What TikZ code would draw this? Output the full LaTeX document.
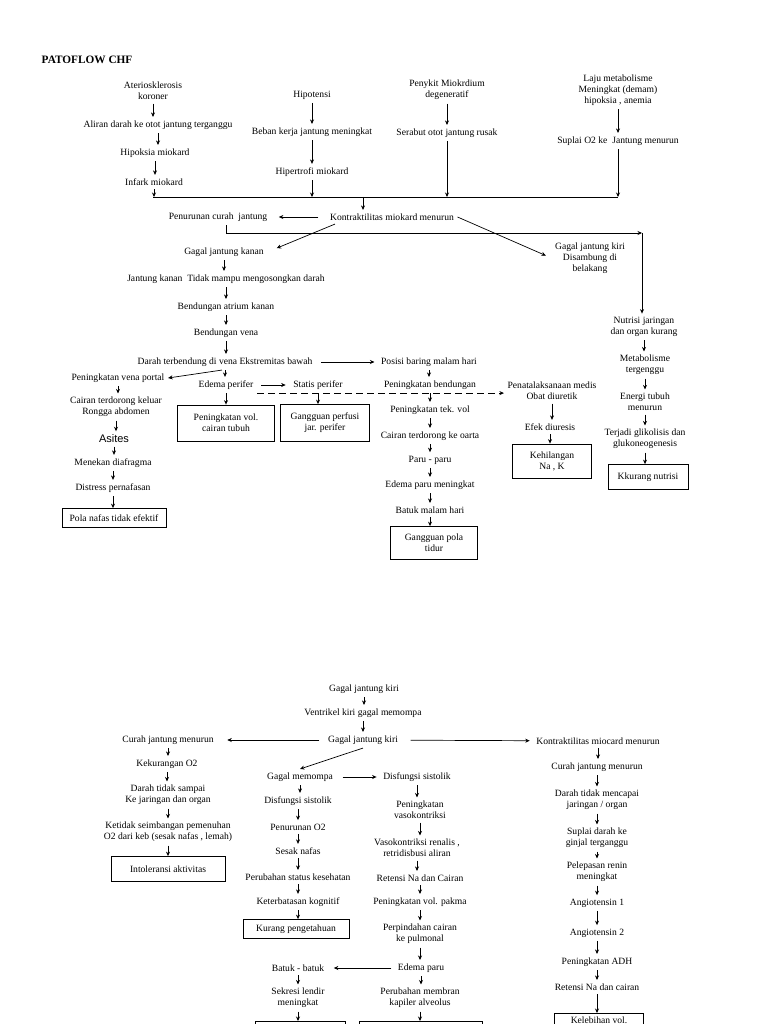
\documentclass[tikz,border=0pt]{standalone}
\usepackage{fontspec}
\setmainfont{Liberation Serif}
\newfontfamily\asitesfont{Liberation Sans}
\usetikzlibrary{arrows.meta}
\tikzset{
  every node/.style={font=\fontsize{9.6}{11}\selectfont, align=center},
  box/.style={draw, line width=0.8pt},
  >={Stealth[length=4.5pt,width=4pt]}
}
\begin{document}
\begin{tikzpicture}[x=1pt,y=-1pt,line width=0.7pt]
\useasboundingbox (0,0) rectangle (768,1024);
\fill[white] (0,0) rectangle (768,1024);
\clip (0,0) rectangle (768,1024);
\node[anchor=west, font=\fontsize{11.3}{13}\selectfont\bfseries] (title) at (38,60) {PATOFLOW CHF};
\node (ath) at (153,91) {Ateriosklerosis\\koroner};
\node (ali) at (158,125) {Aliran darah ke otot jantung terganggu};
\node (hip) at (155,153) {Hipoksia miokard};
\node (inf) at (154,182) {Infark miokard};
\node (hpt) at (312,95) {Hipotensi};
\node (beb) at (312,132) {Beban kerja jantung meningkat};
\node (htr) at (312,172) {Hipertrofi miokard};
\node (pny) at (447,90) {Penykit Miokrdium\\degeneratif};
\node (ser) at (447,133) {Serabut otot jantung rusak};
\node (laj) at (618,90) {Laju metabolisme\\Meningkat (demam)\\hipoksia , anemia};
\node (sup) at (618,141) {Suplai O2 ke\ \ Jantung menurun};
\coordinate (barL) at (153,197);
\coordinate (barR) at (618,197);
\coordinate (jn) at (363,197);
\draw (barL) -- (barR);
\foreach \s/\t in {ath/ali, ali/hip, hip/inf, hpt/beb, beb/htr, pny/ser, laj/sup}
  \draw[->] (\s) -- (\s |- \t.north);
\foreach \s in {inf, htr, ser, sup}
  \draw[->] (\s) -- (\s |- barL);
\node (kon) at (392,217) {Kontraktilitas miokard menurun};
\node (pen) at (218,217) {Penurunan curah\ \ jantung};
\node (gka) at (224,252) {Gagal jantung kanan};
\node (gki) at (590,258) {Gagal jantung kiri\\Disambung di\\belakang};
\node (nji) at (644,327) {Nutrisi jaringan\\dan organ kurang};
\coordinate (bend) at (642,233);
\draw[->] (jn) -- (jn |- kon.north);
\draw[->, shorten <=8pt, shorten >=8pt] (kon) -- (pen);
\draw[->] ([xshift=8pt]pen.south) |- (bend);
\draw[->] (bend) -- (bend |- nji.north);
\draw[->, shorten >=6pt] (kon.east) -- (gki.west);
\draw[->, shorten >=10pt] ([xshift=-57pt]kon.south) -- (gka.east);
\node (jka) at (226,279) {Jantung kanan\ \ Tidak mampu mengosongkan darah};
\node (bat) at (226,307) {Bendungan atrium kanan};
\node (bve) at (226,333) {Bendungan vena};
\node (dar) at (225,362) {Darah terbendung di vena Ekstremitas bawah};
\node (pos) at (429,362) {Posisi baring malam hari};
\node (vpo) at (118,378) {Peningkatan vena portal};
\node (epf) at (226,385) {Edema perifer};
\node (spf) at (318,385) {Statis perifer};
\node (pmd) at (552,391) {Penatalaksanaan medis\\Obat diuretik};
\node[box, minimum width=97pt, minimum height=36pt] (pvt) at (226,423) {Peningkatan vol.\\cairan tubuh};
\node[box, minimum width=89pt, minimum height=37pt] (gpf) at (325,423) {Gangguan perfusi\\jar. perifer};
\foreach \s/\t in {gka/jka, jka/bat, bat/bve, bve/dar, dar/epf, epf/pvt, spf/gpf}
  \draw[->] (\s) -- (\s |- \t.north);
\draw[->, shorten <=5pt, shorten >=3pt] (dar) -- (pos);
\draw[->] ([xshift=-3pt]dar.south) -- (vpo.east);
\draw[->, shorten <=4pt, shorten >=4pt] (epf) -- (spf);
\draw[->, dash pattern=on 7pt off 4pt] (epf.south east) -- (epf.south east -| pmd.west);
\node (ctd) at (116,407) {Cairan terdorong keluar\\Rongga abdomen};
\node[font=\asitesfont\fontsize{11}{13}\selectfont] (asi) at (114,439) {Asites};
\node (mdf) at (113,463) {Menekan diafragma};
\node (dsp) at (113,488) {Distress pernafasan};
\node[box, minimum width=104pt, minimum height=19pt] (pnt) at (114,518) {Pola nafas tidak efektif};
\foreach \s/\t in {vpo/ctd, ctd/asi, asi/mdf, mdf/dsp, dsp/pnt}
  \draw[->] (\s) -- (\s |- \t.north);
\node (pbd) at (430,385) {Peningkatan bendungan};
\node (ptv) at (430,410) {Peningkatan tek. vol};
\node (cto) at (430,436) {Cairan terdorong ke oarta};
\node (par) at (430,460) {Paru - paru};
\node (epm) at (430,485) {Edema paru meningkat};
\node (bmh) at (430,510) {Batuk malam hari};
\node[box, minimum width=87pt, minimum height=33pt] (gpt) at (434,543) {Gangguan pola\\tidur};
\foreach \s/\t in {pos/pbd, pbd/ptv, ptv/cto, cto/par, par/epm, epm/bmh, bmh/gpt}
  \draw[->] (\s) -- (\s |- \t.north);
\node (efd) at (550,427) {Efek diuresis};
\node[box, minimum width=79pt, minimum height=34pt] (knk) at (552,461) {Kehilangan\\Na , K};
\foreach \s/\t in {pmd/efd, efd/knk}
  \draw[->] (\s) -- (\s |- \t.north);
\node (mtb) at (645,365) {Metabolisme\\tergenggu};
\node (etm) at (645,402) {Energi tubuh\\menurun};
\node (tgl) at (645,439) {Terjadi glikolisis dan\\glukoneogenesis};
\node[box, minimum width=80pt, minimum height=25pt] (knt) at (648,477) {Kkurang nutrisi};
\foreach \s/\t in {nji/mtb, mtb/etm, etm/tgl, tgl/knt}
  \draw[->] (\s) -- (\s |- \t.north);
\node (gk1) at (364,689) {Gagal jantung kiri};
\node (vkg) at (363,713) {Ventrikel kiri gagal memompa};
\node (gk2) at (363,740) {Gagal jantung kiri};
\node (cjm) at (168,740) {Curah jantung menurun};
\node (kmm) at (598,741) {Kontraktilitas miocard menurun};
\node (gmp) at (300,777) {Gagal memompa};
\node (dsa) at (417,777) {Disfungsi sistolik};
\foreach \s/\t in {gk1/vkg, vkg/gk2}
  \draw[->] (\s) -- (\s |- \t.north);
\draw[->, shorten <=5pt, shorten >=10pt] (gk2) -- (cjm);
\draw[->, shorten <=9pt, shorten >=3pt] (gk2) -- (kmm);
\draw[->] (gk2.south) -- (gmp.north);
\draw[->, shorten <=6pt, shorten >=3pt] (gmp) -- (dsa);
\node (kuo) at (167,764) {Kekurangan O2};
\node (dts) at (168,795) {Darah tidak sampai\\Ke jaringan dan organ};
\node (kse) at (168,832) {Ketidak seimbangan pemenuhan\\O2 dari keb (sesak nafas , lemah)};
\node[box, minimum width=114pt, minimum height=25pt] (ita) at (168,869) {Intoleransi aktivitas};
\foreach \s/\t in {cjm/kuo, kuo/dts, dts/kse, kse/ita}
  \draw[->] (\s) -- (\s |- \t.north);
\node (dsb) at (298,801) {Disfungsi sistolik};
\node (puo) at (298,827) {Penurunan O2};
\node (sna) at (298,851) {Sesak nafas};
\node (psk) at (298,877) {Perubahan status kesehatan};
\node (kbk) at (298,902) {Keterbatasan kognitif};
\node[box, minimum width=106pt, minimum height=19pt] (kpg) at (296,929) {Kurang pengetahuan};
\node (bbk) at (298,968) {Batuk - batuk};
\node (sld) at (298,998) {Sekresi lendir\\meningkat};
\node[box, anchor=north, minimum width=90pt, minimum height=20pt] (bsl) at (300,1021) {};
\foreach \s/\t in {gmp/dsb, dsb/puo, puo/sna, sna/psk, psk/kbk, kbk/kpg, bbk/sld, sld/bsl}
  \draw[->] (\s) -- (\s |- \t.north);
\node (pvk) at (420,810) {Peningkatan\\vasokontriksi};
\node (vrn) at (417,848) {Vasokontriksi renalis ,\\retridisbusi aliran};
\node (rnc) at (420,878) {Retensi Na dan Cairan};
\node (pvp) at (420,902) {Peningkatan vol. pakma};
\node (pcp) at (420,934) {Perpindahan cairan\\ke pulmonal};
\node (edp) at (421,968) {Edema paru};
\node (pmb) at (420,998) {Perubahan membran\\kapiler alveolus};
\node[box, anchor=north, minimum width=123pt, minimum height=20pt] (bpm) at (421,1021) {};
\foreach \s/\t in {dsa/pvk, pvk/vrn, vrn/rnc, rnc/pvp, pvp/pcp, pcp/edp, edp/pmb, pmb/bpm}
  \draw[->] (\s) -- (\s |- \t.north);
\draw[->, shorten <=3pt, shorten >=6pt] (edp) -- (bbk);
\node (cjn) at (597,767) {Curah jantung menurun};
\node (dtm) at (597,800) {Darah tidak mencapai\\jaringan / organ};
\node (sdg) at (597,838) {Suplai darah ke\\ginjal terganggu};
\node (prm) at (597,872) {Pelepasan renin\\meningkat};
\node (an1) at (597,903) {Angiotensin 1};
\node (an2) at (597,933) {Angiotensin 2};
\node (adh) at (597,962) {Peningkatan ADH};
\node (rnd) at (597,987) {Retensi Na dan cairan};
\node[box, anchor=north, minimum width=89pt, minimum height=24pt, text depth=12pt] (kvl) at (599,1013) {Kelebihan vol.};
\foreach \s/\t in {kmm/cjn, cjn/dtm, dtm/sdg, sdg/prm, prm/an1, an1/an2, an2/adh, adh/rnd, rnd/kvl}
  \draw[->] (\s) -- (\s |- \t.north);
\end{tikzpicture}
\end{document}
